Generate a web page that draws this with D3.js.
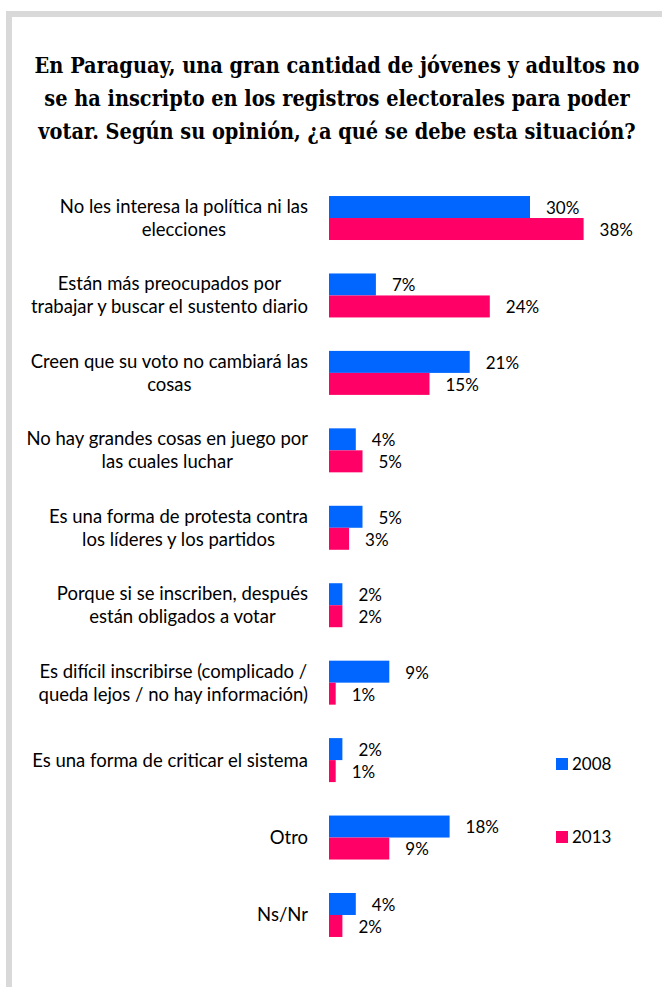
<!DOCTYPE html>
<html>
<head>
<meta charset="utf-8">
<script src="https://cdn.jsdelivr.net/npm/d3@7"></script>
<style>
  body { margin: 0; background: #fff; }
  svg { display: block; }
  .title { font-family: "DejaVu Serif Condensed", "DejaVu Serif", serif; font-stretch: condensed; font-weight: bold; font-size: 21.5px; fill: #000; }
  .cat { font-family: Lato, "Open Sans", sans-serif; font-size: 18.5px; fill: #000; }
  .val, .leg { font-family: Lato, "Open Sans", sans-serif; font-size: 17px; fill: #000; }
</style>
</head>
<body>
<script>
// Categories (each one split in lines as in the original)
const categories = [
  ["No les interesa la política ni las", "elecciones"],
  ["Están más preocupados por", "trabajar y buscar el sustento diario"],
  ["Creen que su voto no cambiará las", "cosas"],
  ["No hay grandes cosas en juego por", "las cuales luchar"],
  ["Es una forma de protesta contra", "los líderes y los partidos"],
  ["Porque si se inscriben, después", "están obligados a votar"],
  ["Es difícil inscribirse (complicado /", "queda lejos / no hay información)"],
  ["Es una forma de criticar el sistema"],
  ["Otro"],
  ["Ns/Nr"]
];
const series = ["2008", "2013"];
const values2008 = [30, 7, 21, 4, 5, 2, 9, 2, 18, 4];
const values2013 = [38, 24, 15, 5, 3, 2, 1, 1, 9, 2];
const titleLines = [
  "En Paraguay, una gran cantidad de jóvenes y adultos no",
  "se ha inscripto en los registros electorales para poder",
  "votar. Según su opinión, ¿a qué se debe esta situación?"
];

const w = 662, h = 987;
const colors = { "2008": "#0066ff", "2013": "#ff0066" };

const svg = d3.select("body").append("svg")
  .attr("width", w)
  .attr("height", h);

// grey frame on the left and top
svg.append("rect").attr("x", 6).attr("y", 11).attr("width", 6).attr("height", h - 11).attr("fill", "#d9d9d9");
svg.append("rect").attr("x", 6).attr("y", 11).attr("width", w - 6).attr("height", 6).attr("fill", "#d9d9d9");

// title
svg.append("g").selectAll("text")
  .data(titleLines)
  .enter()
  .append("text")
  .attr("class", "title")
  .attr("x", 337)
  .attr("y", (d, i) => 73 + i * 33)
  .attr("text-anchor", "middle")
  .text(d => d);

const keys = categories.map((d, i) => i);
const data = keys.map(i => ({ i, lines: categories[i], "2008": values2008[i], "2013": values2013[i] }));

// scales
const x = d3.scaleLinear().domain([0, 40]).range([329, 597]);
const y = d3.scaleBand()
  .domain(keys)
  .range([179.3, 953.7])
  .paddingInner(0.432)
  .paddingOuter(0.216);
const ySub = d3.scaleBand().domain(series).range([0, y.bandwidth()]);

const groups = svg.append("g").selectAll("g")
  .data(data)
  .enter()
  .append("g")
  .attr("transform", d => `translate(0, ${y(d.i)})`);

groups.selectAll("rect")
  .data(d => series.map(s => ({ s, v: d[s] })))
  .enter()
  .append("rect")
  .attr("x", x(0))
  .attr("y", d => ySub(d.s))
  .attr("width", d => x(d.v) - x(0))
  .attr("height", ySub.bandwidth())
  .attr("fill", d => colors[d.s]);

groups.selectAll(".val")
  .data(d => series.map(s => ({ s, v: d[s] })))
  .enter()
  .append("text")
  .attr("class", "val")
  .attr("x", d => x(d.v) + 16)
  .attr("y", d => ySub(d.s) + ySub.bandwidth() / 2 + 1)
  .attr("dy", "0.35em")
  .text(d => d.v + "%");

// category labels: lines centred on each other, block right-aligned at 308
groups.each(function (d) {
  const g = d3.select(this);
  const lh = 23;
  const t = g.selectAll(".cat")
    .data(d.lines)
    .enter()
    .append("text")
    .attr("class", "cat")
    .attr("text-anchor", "middle")
    .attr("y", (l, k) => y.bandwidth() / 2 + (k - (d.lines.length - 1) / 2) * lh)
    .attr("dy", "0.35em")
    .text(l => l);
  let maxW = 0;
  t.each(function () { maxW = Math.max(maxW, this.getComputedTextLength()); });
  t.attr("x", 308 - maxW / 2);
});

// legend
const legend = svg.append("g").selectAll("g")
  .data(series)
  .enter()
  .append("g")
  .attr("transform", (d, i) => `translate(556, ${764 + i * 73})`);
legend.append("rect")
  .attr("y", -6)
  .attr("width", 12)
  .attr("height", 12)
  .attr("fill", d => colors[d]);
legend.append("text")
  .attr("class", "leg")
  .attr("x", 16)
  .attr("dy", "0.35em")
  .text(d => d);
</script>
</body>
</html>
